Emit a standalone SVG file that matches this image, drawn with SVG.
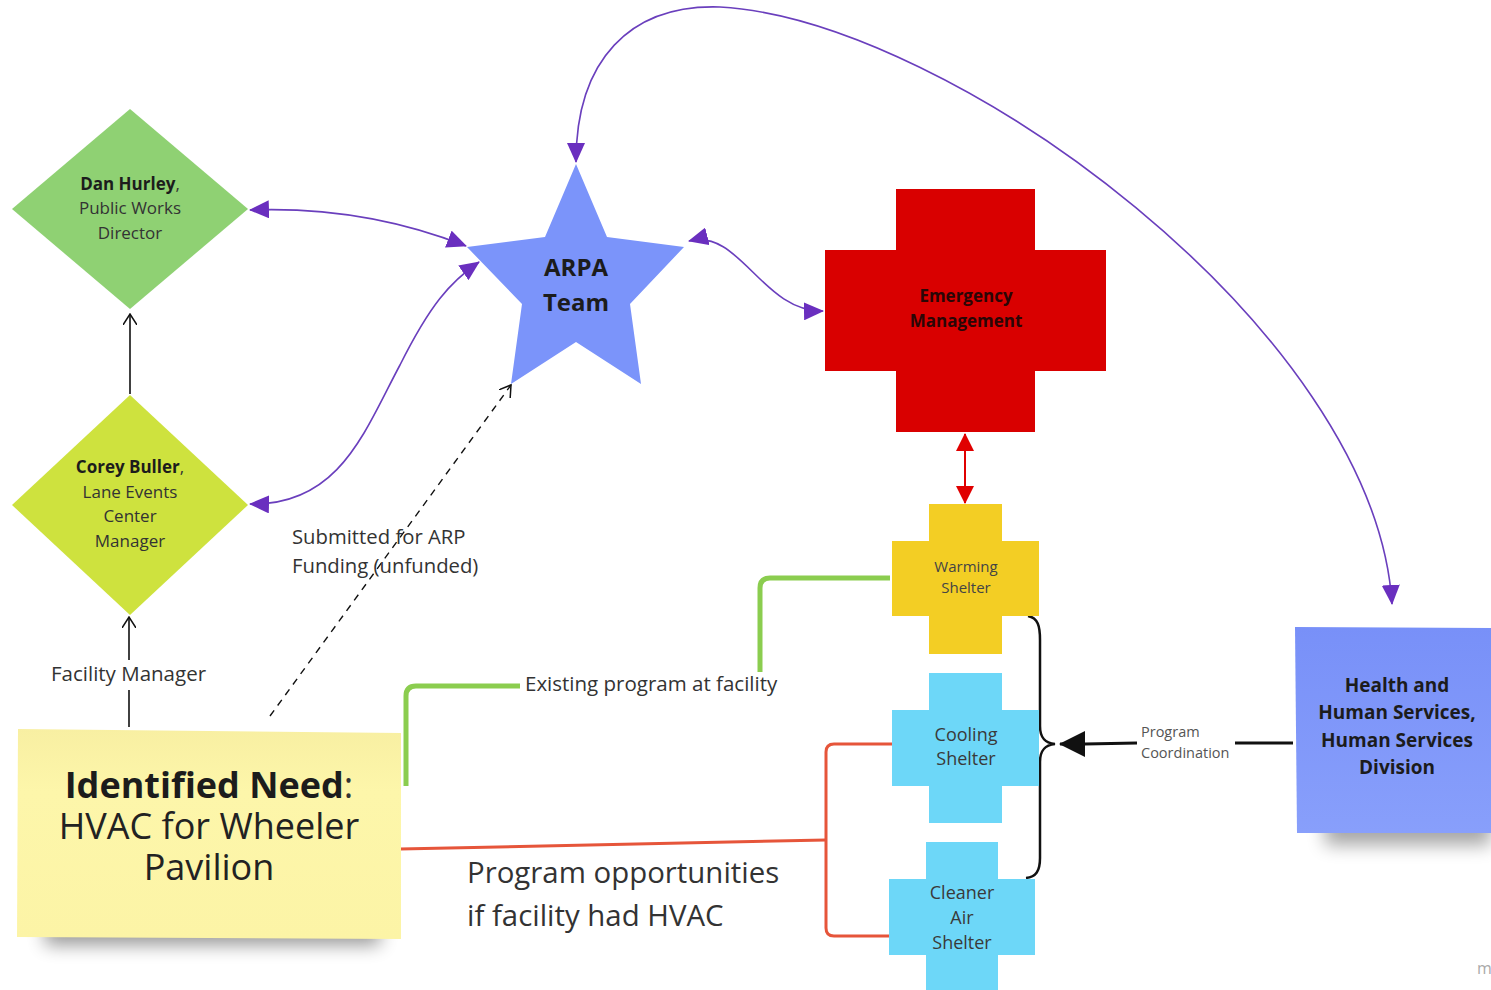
<svg xmlns="http://www.w3.org/2000/svg" width="1491" height="990" viewBox="0 0 1491 990">
<style>
text{font-family:"Open Sans","Noto Sans","DejaVu Sans",sans-serif;fill:#333;text-anchor:middle}
.b{font-weight:bold;fill:#1c1c1c}
.pl{fill:none;stroke:#6a3fbd;stroke-width:1.6}
.lbl{text-anchor:start}
</style>
<defs>
<marker id="pa" viewBox="0 0 20 18" refX="19" refY="9" markerWidth="20" markerHeight="18" markerUnits="userSpaceOnUse" orient="auto-start-reverse"><path d="M0,0 L20,9 L0,18 z" fill="#6a2fbf"/></marker>
<marker id="ra" viewBox="0 0 18 18" refX="17" refY="9" markerWidth="18" markerHeight="18" markerUnits="userSpaceOnUse" orient="auto-start-reverse"><path d="M0,0 L18,9 L0,18 z" fill="#e00000"/></marker>
<marker id="oa" viewBox="0 0 12 14" refX="11" refY="7" markerWidth="12" markerHeight="14" markerUnits="userSpaceOnUse" orient="auto"><path d="M0,0 L11,7 L0,14" fill="none" stroke="#111" stroke-width="1.5"/></marker>
<marker id="ba" viewBox="0 0 26 26" refX="25" refY="13" markerWidth="26" markerHeight="26" markerUnits="userSpaceOnUse" orient="auto"><path d="M0,0 L26,13 L0,26 z" fill="#111"/></marker>
<filter id="sh" x="-20%" y="-50%" width="140%" height="200%"><feGaussianBlur stdDeviation="9"/></filter>
<linearGradient id="hg" x1="0" y1="0" x2="0" y2="1"><stop offset="0" stop-color="#7890f8"/><stop offset="1" stop-color="#889ffb"/></linearGradient>
<linearGradient id="ng" x1="0" y1="0" x2="0" y2="1"><stop offset="0" stop-color="#f8efa2"/><stop offset="0.3" stop-color="#fdf6aa"/><stop offset="1" stop-color="#fcf4a6"/></linearGradient>
</defs>

<g id="connectors">
<path class="pl" d="M576,162 C576,60 630,4 720,7 C950,20 1375,330 1392,604" marker-start="url(#pa)" marker-end="url(#pa)"/>
<path class="pl" d="M250,210 C330,207 400,220 466,246" marker-start="url(#pa)" marker-end="url(#pa)"/>
<path class="pl" d="M250,504 C340,506 365,430 400,365 C430,305 450,282 479,262" marker-start="url(#pa)" marker-end="url(#pa)"/>
<path class="pl" d="M689,241 C740,228 762,312 823,311" marker-start="url(#pa)" marker-end="url(#pa)"/>
<line x1="965" y1="434" x2="965" y2="503" stroke="#e00000" stroke-width="2" marker-start="url(#ra)" marker-end="url(#ra)"/>
<line x1="130" y1="394" x2="130" y2="314" stroke="#111" stroke-width="1.6" marker-end="url(#oa)"/>
<line x1="129" y1="727" x2="129" y2="690" stroke="#111" stroke-width="1.6"/>
<line x1="129" y1="660" x2="129" y2="617" stroke="#111" stroke-width="1.6" marker-end="url(#oa)"/>
<line x1="270" y1="716" x2="511" y2="385" stroke="#111" stroke-width="1.4" stroke-dasharray="7,6" marker-end="url(#oa)"/>
<path d="M406,786 L406,696 Q406,686 416,686 L520,686" fill="none" stroke="#8bcd4f" stroke-width="5"/>
<path d="M760,672 L760,588 Q760,578 770,578 L890,578" fill="none" stroke="#8bcd4f" stroke-width="5"/>
<path d="M400,849 L826,840" fill="none" stroke="#e6553a" stroke-width="3"/>
<path d="M893,744 L834,744 Q826,744 826,752 L826,928 Q826,936 834,936 L893,936" fill="none" stroke="#e6553a" stroke-width="3"/>
<path d="M1028,616 C1038,618 1040,626 1040,640 L1040,726 C1040,738 1045,743 1055,744 C1045,745 1040,750 1040,762 L1040,858 C1040,871 1036,877 1026,878" fill="none" stroke="#111" stroke-width="2.5"/>
<line x1="1293" y1="743" x2="1235" y2="743" stroke="#111" stroke-width="3"/>
<path d="M1137,743 L1085,744 L1060,744" fill="none" stroke="#111" stroke-width="3" marker-end="url(#ba)"/>
<text class="lbl" x="1141" y="737" font-size="14.5" style="fill:#555">Program</text>
<text class="lbl" x="1141" y="758" font-size="14.5" style="fill:#555">Coordination</text>
<text class="lbl" x="51" y="681" font-size="20.5">Facility Manager</text>
<text class="lbl" x="292" y="544" font-size="20.3">Submitted for ARP</text>
<text class="lbl" x="292" y="573" font-size="20.3">Funding (unfunded)</text>
<text class="lbl" x="525" y="691" font-size="20.5">Existing program at facility</text>
<text class="lbl" x="467" y="883" font-size="29.4">Program opportunities</text>
<text class="lbl" x="467" y="926" font-size="29.4">if facility had HVAC</text>
</g>

<g id="dan-hurley">
<polygon points="130,109 248,209 130,309 12,209" fill="#8fd173"/>
<text x="130" y="190" font-size="17"><tspan class="b">Dan Hurley</tspan>,</text>
<text x="130" y="214" font-size="17">Public Works</text>
<text x="130" y="239" font-size="17">Director</text>
</g>

<g id="corey-buller">
<polygon points="130,395 248,505 130,615 12,505" fill="#cee23e"/>
<text x="130" y="473" font-size="17"><tspan class="b">Corey Buller</tspan>,</text>
<text x="130" y="498" font-size="17">Lane Events</text>
<text x="130" y="522" font-size="17">Center</text>
<text x="130" y="547" font-size="17">Manager</text>
</g>

<g id="arpa-team">
<polygon points="576,164 607,237 684,247 630,304 641,384 576,342 511,384 522,304 467,247 545,237" fill="#7b94fa"/>
<text class="b" x="576" y="276" font-size="24">ARPA</text>
<text class="b" x="576" y="311" font-size="24">Team</text>
</g>

<g id="emergency-management">
<path d="M896,189 H1035 V250 H1106 V371 H1035 V432 H896 V371 H825 V250 H896 Z" fill="#d90000"/>
<text class="b" x="966" y="302" font-size="17" style="fill:#2a0606">Emergency</text>
<text class="b" x="966" y="327" font-size="17" style="fill:#2a0606">Management</text>
</g>

<g id="warming-shelter">
<path d="M929,504 H1002 V541 H1039 V616 H1002 V654 H929 V616 H892 V541 H929 Z" fill="#f3ce24"/>
<text x="966" y="572" font-size="15" style="fill:#444">Warming</text>
<text x="966" y="593" font-size="15" style="fill:#444">Shelter</text>
</g>

<g id="cooling-shelter">
<path d="M929,673 H1002 V710 H1039 V786 H1002 V823 H929 V786 H892 V710 H929 Z" fill="#6dd7f8"/>
<text x="966" y="741" font-size="18" style="fill:#3a3a3a">Cooling</text>
<text x="966" y="765" font-size="18" style="fill:#3a3a3a">Shelter</text>
</g>

<g id="cleaner-air-shelter">
<path d="M926,842 H998 V879 H1035 V955 H998 V992 H926 V955 H889 V879 H926 Z" fill="#6dd7f8"/>
<text x="962" y="899" font-size="18" style="fill:#3a3a3a">Cleaner</text>
<text x="962" y="924" font-size="18" style="fill:#3a3a3a">Air</text>
<text x="962" y="949" font-size="18" style="fill:#3a3a3a">Shelter</text>
</g>

<g id="health-human-services">
<rect x="1325" y="805" width="166" height="40" fill="#000" opacity="0.35" filter="url(#sh)"/>
<polygon points="1295,627 1491,628 1491,833 1297,833" fill="url(#hg)"/>
<text class="b" x="1397" y="692" font-size="19">Health and</text>
<text class="b" x="1397" y="719" font-size="19">Human Services,</text>
<text class="b" x="1397" y="747" font-size="19">Human Services</text>
<text class="b" x="1397" y="774" font-size="19">Division</text>
</g>

<g id="identified-need">
<rect x="45" y="905" width="335" height="40" fill="#000" opacity="0.4" filter="url(#sh)"/>
<polygon points="18,729 401,733 401,939 17,937" fill="url(#ng)"/>
<text x="209" y="798" font-size="36"><tspan class="b">Identified Need</tspan>:</text>
<text x="209" y="839" font-size="36" style="fill:#222">HVAC for Wheeler</text>
<text x="209" y="880" font-size="36" style="fill:#222">Pavilion</text>
</g>

<text x="1477" y="974" font-size="16" style="fill:#aaa;text-anchor:start">m</text>
</svg>
